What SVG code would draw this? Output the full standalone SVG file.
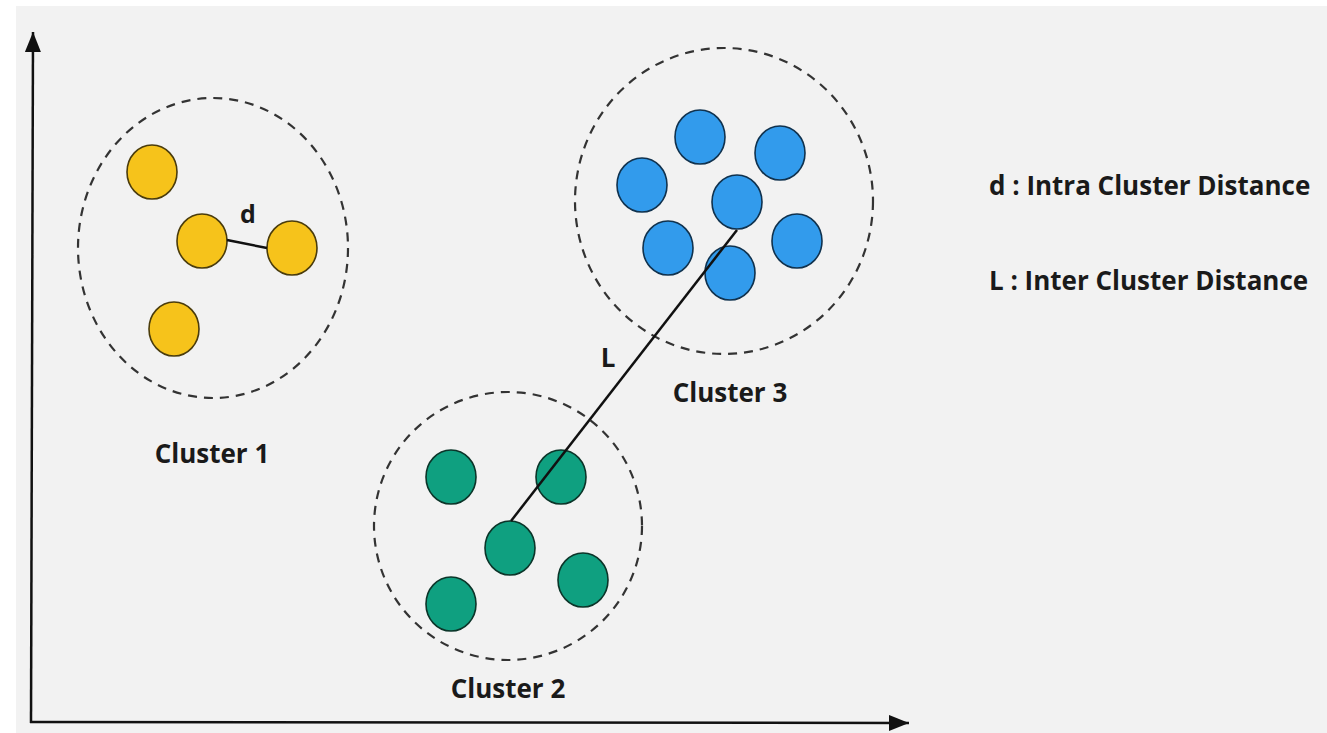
<svg xmlns="http://www.w3.org/2000/svg" width="1327" height="733" viewBox="0 0 1327 733">
  <defs>
    <marker id="arrow" viewBox="0 0 20 16" refX="20" refY="8" markerWidth="20" markerHeight="16" markerUnits="userSpaceOnUse" orient="auto">
      <path d="M0,0 L20,8 L0,16 Z" fill="#111"/>
    </marker>
  </defs>
  <style>
    .bound { fill: none; stroke: #333; stroke-width: 2.2; stroke-dasharray: 9 7; }
    .y { fill: #f6c31b; stroke: #4a3c0c; stroke-width: 1.6; }
    .b { fill: #329bec; stroke: #10324e; stroke-width: 1.6; }
    .g { fill: #0fa080; stroke: #0b3529; stroke-width: 1.6; }
    .lbl { font-family: "Open Sans", "Noto Sans", sans-serif; font-weight: 700; fill: #1a1a1a; }
    .dist { stroke: #111; stroke-width: 2.5; fill: none; }
  </style>
  <rect x="0" y="0" width="1327" height="733" fill="#ffffff"/>
  <rect x="16" y="6" width="1311" height="727" fill="#f2f2f2"/>

  <!-- axes -->
  <g id="axes">
    <line x1="31" y1="723" x2="33" y2="32" stroke="#111" stroke-width="2.5" marker-end="url(#arrow)"/>
    <line x1="30" y1="722" x2="909" y2="723" stroke="#111" stroke-width="2.5" marker-end="url(#arrow)"/>
  </g>

  <!-- cluster 1 -->
  <g id="cluster1">
    <ellipse class="bound" cx="213" cy="248" rx="135" ry="150"/>
    <ellipse class="y" cx="152" cy="172" rx="25" ry="27"/>
    <ellipse class="y" cx="202" cy="241" rx="25" ry="27"/>
    <ellipse class="y" cx="292" cy="248" rx="25" ry="27"/>
    <ellipse class="y" cx="174" cy="329" rx="25" ry="27"/>
    <text class="lbl" x="212" y="463" font-size="26" text-anchor="middle">Cluster 1</text>
  </g>

  <!-- cluster 3 -->
  <g id="cluster3">
    <ellipse class="bound" cx="724" cy="201" rx="149" ry="153"/>
    <ellipse class="b" cx="700" cy="137" rx="25" ry="27"/>
    <ellipse class="b" cx="780" cy="153" rx="25" ry="27"/>
    <ellipse class="b" cx="642" cy="185" rx="25" ry="27"/>
    <ellipse class="b" cx="737" cy="202" rx="25" ry="27"/>
    <ellipse class="b" cx="668" cy="248" rx="25" ry="27"/>
    <ellipse class="b" cx="797" cy="241" rx="25" ry="27"/>
    <ellipse class="b" cx="730" cy="273" rx="25" ry="27"/>
    <text class="lbl" x="730" y="402" font-size="26" text-anchor="middle">Cluster 3</text>
  </g>

  <!-- cluster 2 -->
  <g id="cluster2">
    <ellipse class="bound" cx="508" cy="526" rx="134" ry="134"/>
    <ellipse class="g" cx="451" cy="477" rx="25" ry="27"/>
    <ellipse class="g" cx="561" cy="477" rx="25" ry="27"/>
    <ellipse class="g" cx="510" cy="548" rx="25" ry="27"/>
    <ellipse class="g" cx="451" cy="604" rx="25" ry="27"/>
    <ellipse class="g" cx="583" cy="580" rx="25" ry="27"/>
    <text class="lbl" x="508" y="698" font-size="26" text-anchor="middle">Cluster 2</text>
  </g>

  <!-- distance connectors -->
  <g id="connectors">
    <line class="dist" x1="227" y1="240" x2="267" y2="248"/>
    <line class="dist" x1="737" y1="230" x2="511" y2="521"/>
  </g>
  <text class="lbl" x="248" y="223" font-size="25" text-anchor="middle">d</text>
  <text class="lbl" x="608" y="367" font-size="26" text-anchor="middle">L</text>

  <!-- legend -->
  <g id="legend">
    <text class="lbl" x="989" y="195" font-size="26">d : Intra Cluster Distance</text>
    <text class="lbl" x="989" y="290" font-size="26">L : Inter Cluster Distance</text>
  </g>
</svg>
